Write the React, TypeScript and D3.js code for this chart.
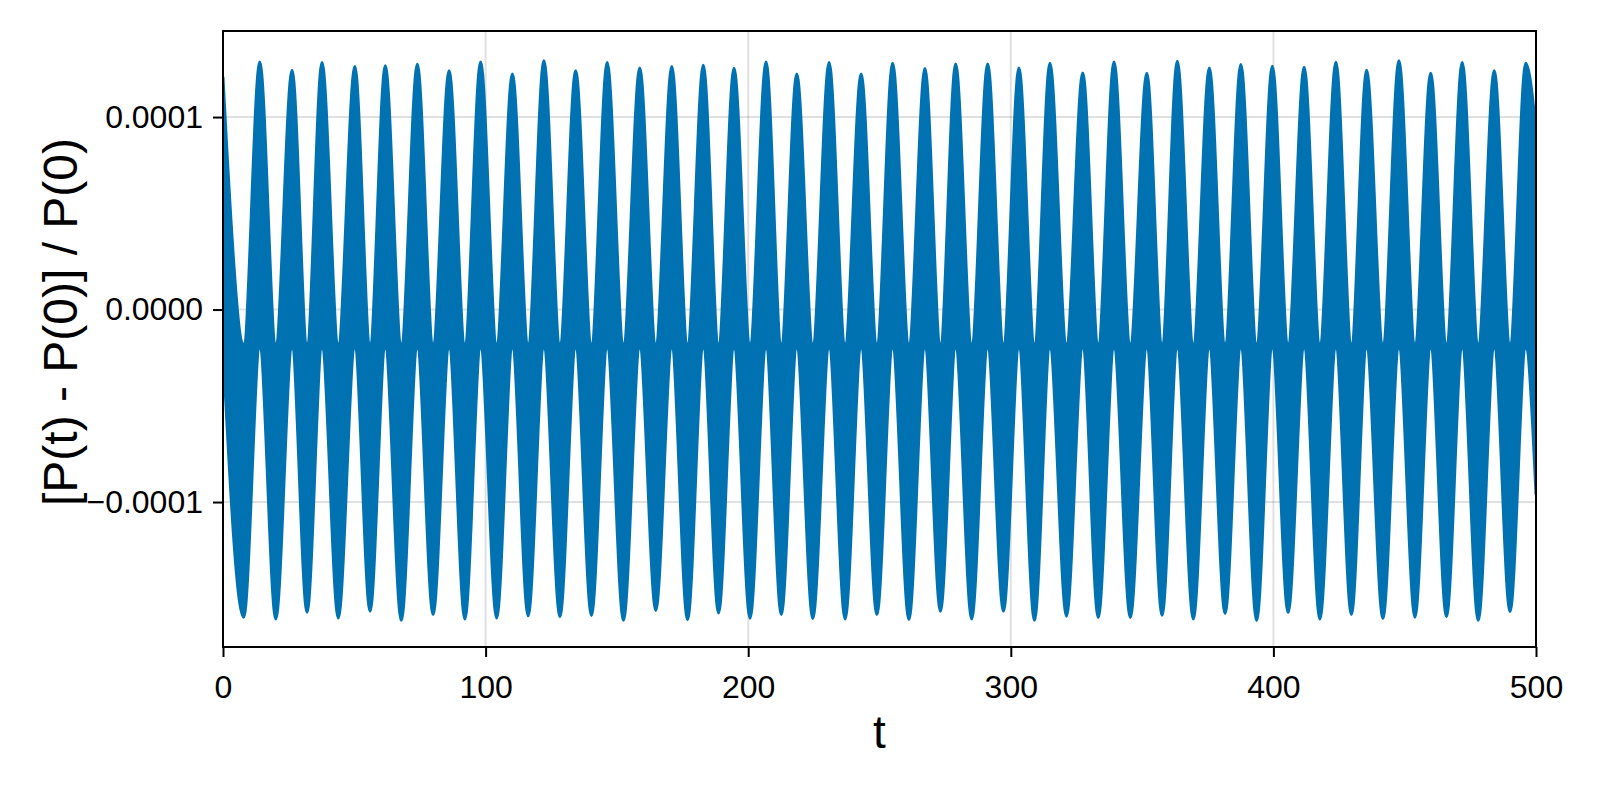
import { useEffect, useRef } from "react";
import * as d3 from "d3";

// plot box in page pixels
const plotLeft = 223, plotRight = 1536, plotTop = 31, plotBottom = 647;

const xDomain = [0, 500];
const yDomain = [-1.753e-4, 1.447e-4];

const xTicks = [0, 100, 200, 300, 400, 500];
const xTickLabels = ["0", "100", "200", "300", "400", "500"];
const yTicks = [-1e-4, 0, 1e-4];
const yTickLabels = ["\u22120.0001", "0.0000", "0.0001"];

// envelope of the fast oscillation
const startT = 0, startHi = 1.205e-4, startLo = -0.2e-4;
const endT = 500, endHi = 0.93e-4, endLo = -0.96e-4;
const upperNotch = -0.18e-4; // top edge of the band at the troughs
const lowerNotch = -0.2e-4; // bottom edge of the band at the peaks

const troughT = [
  7.9, 20.1, 32.0, 43.9, 56.0, 67.9, 80.0, 92.1, 104.2, 116.2, 128.3, 140.3, 152.5, 164.8,
  176.9, 188.7, 200.7, 212.6, 224.6, 236.9, 249.0, 261.2, 273.2, 285.1, 297.2, 309.0, 321.2,
  333.3, 345.5, 357.6, 369.5, 381.6, 393.6, 405.6, 417.7, 429.7, 441.7, 453.9, 465.9, 478.0, 490.1,
];
const troughV = [
  -1.598e-4, -1.607e-4, -1.572e-4, -1.602e-4, -1.567e-4, -1.614e-4, -1.584e-4, -1.607e-4, -1.602e-4,
  -1.591e-4, -1.596e-4, -1.589e-4, -1.614e-4, -1.563e-4, -1.612e-4, -1.577e-4, -1.603e-4, -1.584e-4,
  -1.605e-4, -1.607e-4, -1.584e-4, -1.61e-4, -1.567e-4, -1.607e-4, -1.567e-4, -1.614e-4, -1.593e-4,
  -1.6e-4, -1.6e-4, -1.588e-4, -1.607e-4, -1.579e-4, -1.615e-4, -1.574e-4, -1.607e-4, -1.584e-4,
  -1.605e-4, -1.598e-4, -1.596e-4, -1.614e-4, -1.57e-4,
];
const peakT = [
  14.0, 26.3, 37.7, 50.2, 61.8, 74.0, 86.1, 98.1, 110.2, 122.2, 134.3, 146.3, 158.7, 170.9,
  182.9, 194.6, 206.8, 218.5, 230.8, 243.0, 255.0, 267.3, 279.0, 291.2, 303.1, 314.9, 327.4,
  339.3, 351.8, 363.4, 375.6, 387.6, 399.6, 411.7, 423.8, 435.5, 447.8, 459.9, 471.9, 484.1, 496.1,
];
const peakV = [
  1.286e-4, 1.243e-4, 1.283e-4, 1.262e-4, 1.267e-4, 1.274e-4, 1.241e-4, 1.286e-4, 1.224e-4,
  1.293e-4, 1.241e-4, 1.283e-4, 1.255e-4, 1.262e-4, 1.269e-4, 1.253e-4, 1.286e-4, 1.224e-4,
  1.283e-4, 1.224e-4, 1.279e-4, 1.252e-4, 1.276e-4, 1.276e-4, 1.255e-4, 1.279e-4, 1.229e-4,
  1.286e-4, 1.227e-4, 1.29e-4, 1.255e-4, 1.273e-4, 1.264e-4, 1.259e-4, 1.285e-4, 1.243e-4,
  1.293e-4, 1.227e-4, 1.283e-4, 1.241e-4, 1.279e-4,
];

const font = "'Liberation Sans', Arial, Helvetica, sans-serif";
const blue = "#0072b2";

type Row = { t: number; hi: number; lo: number };

export default function App() {
  const ref = useRef<SVGSVGElement>(null);

  useEffect(() => {
    const svg = d3.select(ref.current);
    svg.selectAll("*").remove();

    const x = d3.scaleLinear().domain(xDomain).range([plotLeft, plotRight]);
    const y = d3.scaleLinear().domain(yDomain).range([plotBottom, plotTop]);

    const rows: Row[] = [{ t: startT, hi: startHi, lo: startLo }];
    troughT.forEach((t, i) => {
      rows.push({ t, hi: upperNotch, lo: troughV[i] });
      rows.push({ t: peakT[i], hi: peakV[i], lo: lowerNotch });
    });
    rows.push({ t: endT, hi: endHi, lo: endLo });

    svg.append("rect").attr("width", 1600).attr("height", 800).attr("fill", "#fff");

    svg.append("defs").append("clipPath").attr("id", "plot-clip")
      .append("rect")
      .attr("x", plotLeft).attr("y", plotTop)
      .attr("width", plotRight - plotLeft).attr("height", plotBottom - plotTop);

    // grid
    const grid = svg.append("g").attr("stroke", "rgba(0,0,0,0.12)").attr("stroke-width", 2);
    xTicks.forEach((d) => {
      grid.append("line")
        .attr("x1", x(d)).attr("x2", x(d))
        .attr("y1", plotTop).attr("y2", plotBottom);
    });
    yTicks.forEach((d) => {
      grid.append("line")
        .attr("x1", plotLeft).attr("x2", plotRight)
        .attr("y1", y(d)).attr("y2", y(d));
    });

    // the dense oscillation reads as a filled band between its envelopes,
    // the 3px stroke stands in for the width of the plotted line
    const area = d3.area<Row>()
      .x((d) => x(d.t))
      .y0((d) => y(d.lo))
      .y1((d) => y(d.hi))
      .curve(d3.curveMonotoneX);

    svg.append("path")
      .datum(rows)
      .attr("clip-path", "url(#plot-clip)")
      .attr("d", area)
      .attr("fill", blue)
      .attr("stroke", blue)
      .attr("stroke-width", 3)
      .attr("stroke-linejoin", "round");

    // box
    svg.append("rect")
      .attr("x", plotLeft).attr("y", plotTop)
      .attr("width", plotRight - plotLeft).attr("height", plotBottom - plotTop)
      .attr("fill", "none").attr("stroke", "#000").attr("stroke-width", 2);

    const xAxis = svg.append("g")
      .attr("transform", `translate(0,${plotBottom})`)
      .call(d3.axisBottom(x).tickValues(xTicks).tickSize(10).tickPadding(18)
        .tickFormat((_, i) => xTickLabels[i]));
    xAxis.select(".domain").remove();

    const yAxis = svg.append("g")
      .attr("transform", `translate(${plotLeft},0)`)
      .call(d3.axisLeft(y).tickValues(yTicks).tickSize(10).tickPadding(10)
        .tickFormat((_, i) => yTickLabels[i]));
    yAxis.select(".domain").remove();

    [xAxis, yAxis].forEach((g) => {
      g.selectAll(".tick line").attr("stroke", "#000").attr("stroke-width", 2);
      g.selectAll(".tick text")
        .attr("fill", "#000")
        .style("font-family", font)
        .style("font-size", "32px");
    });

    svg.append("text")
      .attr("x", (plotLeft + plotRight) / 2)
      .attr("y", 748)
      .attr("text-anchor", "middle")
      .style("font-family", font)
      .style("font-size", "46px")
      .text("t");

    svg.append("text")
      .attr("transform", "translate(77,322) rotate(-90)")
      .attr("text-anchor", "middle")
      .style("font-family", font)
      .style("font-size", "48px")
      .text("[P(t) - P(0)] / P(0)");
  }, []);

  return (
    <svg
      ref={ref}
      width={1600}
      height={800}
      style={{ position: "absolute", left: 0, top: 0, display: "block" }}
    />
  );
}
